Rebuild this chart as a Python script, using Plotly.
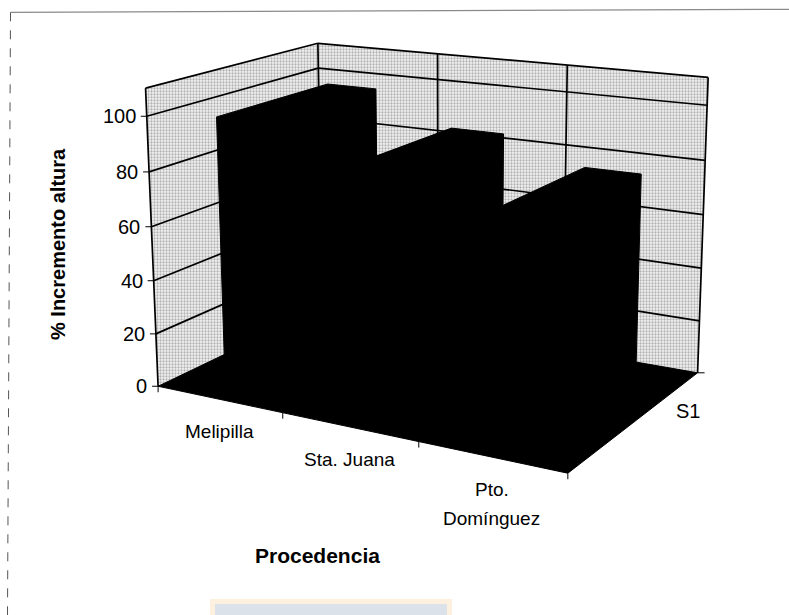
import numpy as np
import plotly.graph_objects as go

# ---- data -------------------------------------------------------------
categories = ["Melipilla", "Sta. Juana", "Pto.\nDomínguez"]
series_name = "S1"
values = [98, 86, 77]
y_ticks = [0, 20, 40, 60, 80, 100]
y_max = 110
y_title = "% Incremento altura"
x_title = "Procedencia"

# ---- 3-D frame ----------------------------------------------------------
# Screen positions of the chart box corners / axis ticks, given as
# (category position, depth 0=front..1=back, value) -> (px, py).
FRAME_ANCHORS = [
    ((0, 0, 0), (158.3, 386.7)),
    ((0, 0, 110), (146.0, 86.7)),
    ((0, 0, 100), (146.0, 116.7)),
    ((0, 0, 80), (150.0, 170.7)),
    ((0, 0, 60), (151.7, 227.3)),
    ((0, 0, 40), (154.0, 280.0)),
    ((0, 0, 20), (156.0, 334.0)),
    ((0, 1, 110), (317.3, 42.7)),
    ((0, 1, 100), (317.3, 69.5)),
    ((1, 1, 110), (438.3, 53.7)),
    ((2, 1, 110), (566.7, 65.3)),
    ((3, 1, 110), (709.3, 78.3)),
    ((3, 1, 100), (706.7, 106.0)),
    ((3, 1, 80), (705.0, 159.3)),
    ((3, 1, 60), (703.3, 215.0)),
    ((3, 1, 40), (701.7, 268.3)),
    ((3, 1, 20), (699.3, 320.0)),
    ((3, 1, 0), (698.3, 371.7)),
    ((1, 0, 0), (283.0, 413.5)),
    ((2, 0, 0), (418.0, 442.5)),
    ((3, 0, 0), (566.7, 473.3)),
]

BAR_WIDTH = 0.4          # share of a category slot
BAR_DEPTH = (0.17, 0.83)  # front / back of the columns along the depth axis


def fit_camera(anchors):
    rows, rhs = [], []
    for (X, Y, Z), (u, v) in anchors:
        Z = Z / 100.0
        rows.append([X, Y, Z, 1, 0, 0, 0, 0, -u * X, -u * Y, -u * Z]); rhs.append(u)
        rows.append([0, 0, 0, 0, X, Y, Z, 1, -v * X, -v * Y, -v * Z]); rhs.append(v)
    p, *_ = np.linalg.lstsq(np.array(rows, float), np.array(rhs, float), rcond=None)
    return np.append(p, 1.0).reshape(3, 4)


CAM = fit_camera(FRAME_ANCHORS)


def proj(X, Y, Z):
    h = CAM @ np.array([X, Y, Z / 100.0, 1.0])
    return h[0] / h[2], h[1] / h[2]


def poly(points3d):
    xs, ys = zip(*[proj(*p) for p in points3d])
    return list(xs) + [xs[0]], list(ys) + [ys[0]]


def hull(pts):
    pts = sorted(set(pts))

    def cross(o, a, b):
        return (a[0] - o[0]) * (b[1] - o[1]) - (a[1] - o[1]) * (b[0] - o[0])

    lower, upper = [], []
    for p in pts:
        while len(lower) >= 2 and cross(lower[-2], lower[-1], p) <= 0:
            lower.pop()
        lower.append(p)
    for p in reversed(pts):
        while len(upper) >= 2 and cross(upper[-2], upper[-1], p) <= 0:
            upper.pop()
        upper.append(p)
    return lower[:-1] + upper[:-1]


n = len(categories)
fig = go.Figure()

# ---- walls --------------------------------------------------------------
wall_pattern = dict(shape=".", bgcolor="#f4f4f4", fgcolor="#6e6e6e", size=3, solidity=0.45)
for corners in ([(0, 0, 0), (0, 1, 0), (0, 1, y_max), (0, 0, y_max)],
                [(0, 1, 0), (n, 1, 0), (n, 1, y_max), (0, 1, y_max)]):
    xs, ys = poly(corners)
    fig.add_trace(go.Scatter(x=xs, y=ys, mode="lines", fill="toself",
                             fillcolor="#e6e6e6", fillpattern=wall_pattern,
                             line=dict(width=0), hoverinfo="skip"))

# ---- gridlines and wall edges -------------------------------------------
gx, gy = [], []


def seg(a, b):
    (x0, y0), (x1, y1) = proj(*a), proj(*b)
    gx.extend([x0, x1, None]); gy.extend([y0, y1, None])


for t in y_ticks[1:] + [y_max]:
    seg((0, 0, t), (0, 1, t))
    seg((0, 1, t), (n, 1, t))
for k in range(n + 1):
    seg((k, 1, 0), (k, 1, y_max))
seg((0, 0, 0), (0, 0, y_max))
fig.add_trace(go.Scatter(x=gx, y=gy, mode="lines", line=dict(color="black", width=1.7),
                         hoverinfo="skip"))

# ---- floor ----------------------------------------------------------------
xs, ys = poly([(0, 0, 0), (n, 0, 0), (n, 1, 0), (0, 1, 0)])
fig.add_trace(go.Scatter(x=xs, y=ys, mode="lines", fill="toself", fillcolor="black",
                         line=dict(color="black", width=1), hoverinfo="skip"))

# ---- columns --------------------------------------------------------------
for i, v in enumerate(values):
    x0 = i + (1 - BAR_WIDTH) / 2
    x1 = x0 + BAR_WIDTH
    corners = [proj(X, Y, Z) for X in (x0, x1) for Y in BAR_DEPTH for Z in (0, v)]
    h = hull([(round(a, 3), round(b, 3)) for a, b in corners])
    hx, hy = zip(*h)
    fig.add_trace(go.Scatter(x=list(hx) + [hx[0]], y=list(hy) + [hy[0]], mode="lines",
                             fill="toself", fillcolor="black",
                             line=dict(color="black", width=1), name=categories[i],
                             hoverinfo="skip"))

# ---- ticks ----------------------------------------------------------------
tx, ty = [], []
for t in y_ticks:
    u, w = proj(0, 0, t)
    tx.extend([u - 6, u, None]); ty.extend([w, w, None])
for k in range(n + 1):
    u, w = proj(k, 0, 0)
    tx.extend([u, u, None]); ty.extend([w, w + 6, None])
u, w = proj(n, 1, 0)
tx.extend([u, u + 7, None]); ty.extend([w, w, None])
fig.add_trace(go.Scatter(x=tx, y=ty, mode="lines", line=dict(color="black", width=1),
                         hoverinfo="skip"))

FONT = "Liberation Sans, Arial, sans-serif"
ann = []
for t in y_ticks:
    u, w = proj(0, 0, t)
    ann.append(dict(x=u - 9, y=w, text=str(t), xanchor="right", yanchor="middle",
                    showarrow=False, font=dict(family=FONT, size=20, color="black")))
for i, name in enumerate(categories):
    u, w = proj(i + 0.5, 0, 0)
    for j, line in enumerate(name.split("\n")):
        ann.append(dict(x=u, y=w, text=line, xanchor="center", yanchor="top",
                        yshift=-20 - 29 * j, showarrow=False,
                        font=dict(family=FONT, size=19, color="black")))
u, w = proj(n, 0.5, 0)
ann.append(dict(x=u, y=w, text=series_name, xanchor="left", yanchor="middle",
                xshift=37, yshift=8, showarrow=False,
                font=dict(family=FONT, size=20, color="black")))
ann.append(dict(x=58, y=244, text="<b>" + y_title + "</b>", textangle=-90,
                showarrow=False, xanchor="center", yanchor="middle",
                font=dict(family=FONT, size=20, color="black")))
ann.append(dict(x=317, y=555, text="<b>" + x_title + "</b>", showarrow=False,
                xanchor="center", yanchor="middle",
                font=dict(family=FONT, size=21, color="black")))

shapes = [
    dict(type="line", x0=10.5, y0=12.3, x1=789, y1=9.3, line=dict(color="#8a8a8a", width=1.2)),
    dict(type="line", x0=10.5, y0=12.3, x1=7.5, y1=615, line=dict(color="#555555", width=1, dash="dash")),
    dict(type="rect", x0=210, y0=599, x1=452, y1=616, fillcolor="#fdf0de", line=dict(width=0)),
    dict(type="rect", x0=215, y0=604, x1=447, y1=616, fillcolor="#dce2ea", line=dict(width=0)),
]

fig.update_layout(
    width=789, height=615, margin=dict(l=0, r=0, t=0, b=0),
    paper_bgcolor="white", plot_bgcolor="white", showlegend=False,
    xaxis=dict(range=[0, 789], visible=False, fixedrange=True),
    yaxis=dict(range=[615, 0], visible=False, fixedrange=True),
    annotations=ann, shapes=shapes,
)
fig.write_html("out.html", config={"displayModeBar": False})
